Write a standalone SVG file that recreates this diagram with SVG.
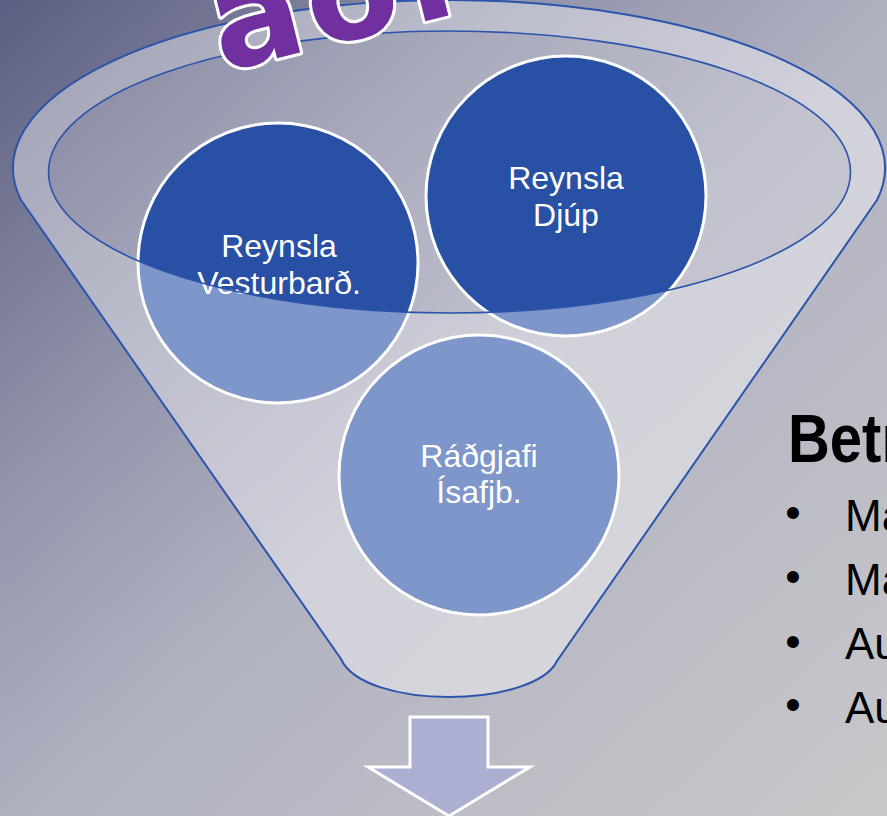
<svg xmlns="http://www.w3.org/2000/svg" width="887" height="816" viewBox="0 0 887 816">
<defs>
  <linearGradient id="bg" x1="0" y1="0" x2="1" y2="1">
    <stop offset="0" stop-color="#5b5e80"/>
    <stop offset="0.3" stop-color="#9294ab"/>
    <stop offset="0.52" stop-color="#b1b2c1"/>
    <stop offset="1" stop-color="#c8c8ca"/>
  </linearGradient>
</defs>
<style>
  .circle { fill: #2850a5; stroke: #ffffff; stroke-width: 3; }
  .ctext { font-family: "Liberation Sans", Arial, sans-serif; font-size: 32px; fill: #ffffff; text-anchor: middle; }
  .funnel-line { fill: none; stroke: #2b54ab; }
  .bullet { font-family: "Liberation Sans", Arial, sans-serif; font-size: 44px; fill: #000000; }
</style>
<rect id="background" x="0" y="0" width="887" height="816" fill="url(#bg)"/>

<g id="funnel-opening">
  <ellipse cx="449.5" cy="172" rx="401" ry="141" fill="#ffffff" fill-opacity="0.22"/>
</g>

<g id="node-vesturbard">
  <circle class="circle" cx="278" cy="263" r="140"/>
  <text class="ctext" x="279" y="257">Reynsla</text>
  <text class="ctext" x="279" y="294">Vesturbarð.</text>
</g>
<g id="node-djup">
  <circle class="circle" cx="566" cy="196" r="140"/>
  <text class="ctext" x="566" y="189">Reynsla</text>
  <text class="ctext" x="566" y="226">Djúp</text>
</g>
<g id="node-radgjafi">
  <circle class="circle" cx="479" cy="475" r="140"/>
  <text class="ctext" x="479" y="467">Ráðgjafi</text>
  <text class="ctext" x="479" y="503">Ísafjb.</text>
</g>

<g id="funnel">
  <path d="M 21,200 L 341,659 C 352,684 400,697 449,697 C 498,697 546,684 557,661 L 877,200 A 436 168 0 1 0 21,200 Z M 48.5,172 A 401 141 0 1 0 850.5,172 A 401 141 0 1 0 48.5,172 Z" fill="#ffffff" fill-opacity="0.4" fill-rule="evenodd"/>
  <path class="funnel-line" stroke-width="2" d="M 21,200 L 341,659 C 352,684 400,697 449,697 C 498,697 546,684 557,661 L 877,200 A 436 168 0 1 0 21,200 Z"/>
  <ellipse class="funnel-line" stroke-width="1.6" cx="449.5" cy="172" rx="401" ry="141"/>
</g>

<g id="title-word">
  <text x="222" y="72" transform="rotate(-14 222 72)" font-family="'DejaVu Sans', sans-serif" font-weight="bold" font-size="135" letter-spacing="6" fill="#7030a0" stroke="#ffffff" stroke-width="6" paint-order="stroke" stroke-linejoin="round">að.</text>
</g>

<g id="arrow">
  <polygon points="410,717 488,717 488,767 530,767 449,816 368,767 410,767" fill="#abb0d2" stroke="#ffffff" stroke-width="3"/>
</g>

<g id="list">
  <text x="788" y="462" font-family="'Liberation Sans', Arial, sans-serif" font-weight="bold" font-size="68" fill="#000000" textLength="116" lengthAdjust="spacingAndGlyphs">Betr</text>
  <text class="bullet" x="793" y="528" text-anchor="middle">•</text>
  <text class="bullet" x="845" y="531">Ma</text>
  <text class="bullet" x="793" y="592" text-anchor="middle">•</text>
  <text class="bullet" x="845" y="595">Ma</text>
  <text class="bullet" x="793" y="657" text-anchor="middle">•</text>
  <text class="bullet" x="845" y="659">Au</text>
  <text class="bullet" x="793" y="720" text-anchor="middle">•</text>
  <text class="bullet" x="845" y="723">Au</text>
</g>
</svg>
